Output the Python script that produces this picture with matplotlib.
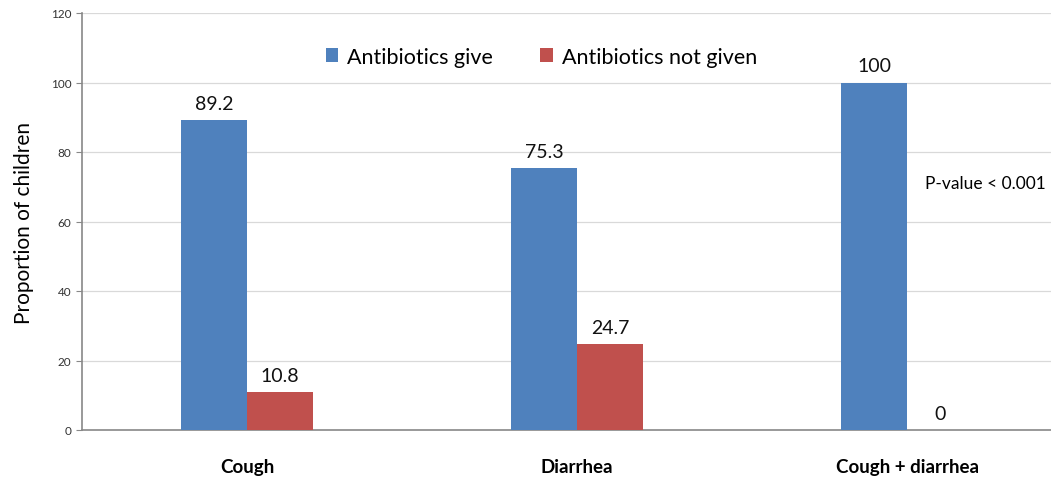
import matplotlib.pyplot as plt
import numpy as np

categories = ['Cough', 'Diarrhea', 'Cough + diarrhea']
given = [89.2, 75.3, 100]
not_given = [10.8, 24.7, 0]
series_names = ['Antibiotics give', 'Antibiotics not given']

plt.rcParams['font.family'] = ['Lato', 'DejaVu Sans']

fig = plt.figure(figsize=(10.51, 4.89), dpi=100)
ax = fig.add_axes([82 / 1051, 58 / 489, (1051 - 82) / 1051, 417 / 489])

x = np.arange(len(categories))
w = 0.2
b1 = ax.bar(x - w / 2, given, w, color='#4F81BD', label=series_names[0], zorder=3)
b2 = ax.bar(x + w / 2, not_given, w, color='#C0504D', label=series_names[1], zorder=3)

for bars in (b1, b2):
    for bar in bars:
        h = bar.get_height()
        ax.annotate(f'{h:g}', (bar.get_x() + bar.get_width() / 2, h),
                    xytext=(0, 6), textcoords='offset points',
                    ha='center', va='bottom', fontsize=14, color='#111111')

ax.set_xlim(-0.5, 2.436)
ax.set_ylim(0, 120)
ax.set_yticks(range(0, 121, 20))
ax.tick_params(axis='y', labelsize=8.5, colors='#333333', length=4, color='#888888')
ax.tick_params(axis='x', length=0, pad=20)
ax.set_xticks(x)
ax.set_xticklabels(categories, fontsize=13.5, fontweight='bold')
ax.yaxis.grid(True, color='#D9D9D9', linewidth=0.9, zorder=0)
ax.set_axisbelow(True)

for s in ['top', 'right']:
    ax.spines[s].set_visible(False)
for s in ['left', 'bottom']:
    ax.spines[s].set_color('#888888')
    ax.spines[s].set_linewidth(1.2)

ax.set_ylabel('Proportion of children', fontsize=15, labelpad=12)

ax.text(2.055, 71, 'P-value < 0.001', fontsize=12.5, va='center', ha='left')

ax.legend(loc='center', bbox_to_anchor=(0.474, 0.895), ncol=2, frameon=False,
          fontsize=15.5, handlelength=0.6, handleheight=0.6, columnspacing=2.2,
          handletextpad=0.4)

fig.savefig('out.png', dpi=100)
